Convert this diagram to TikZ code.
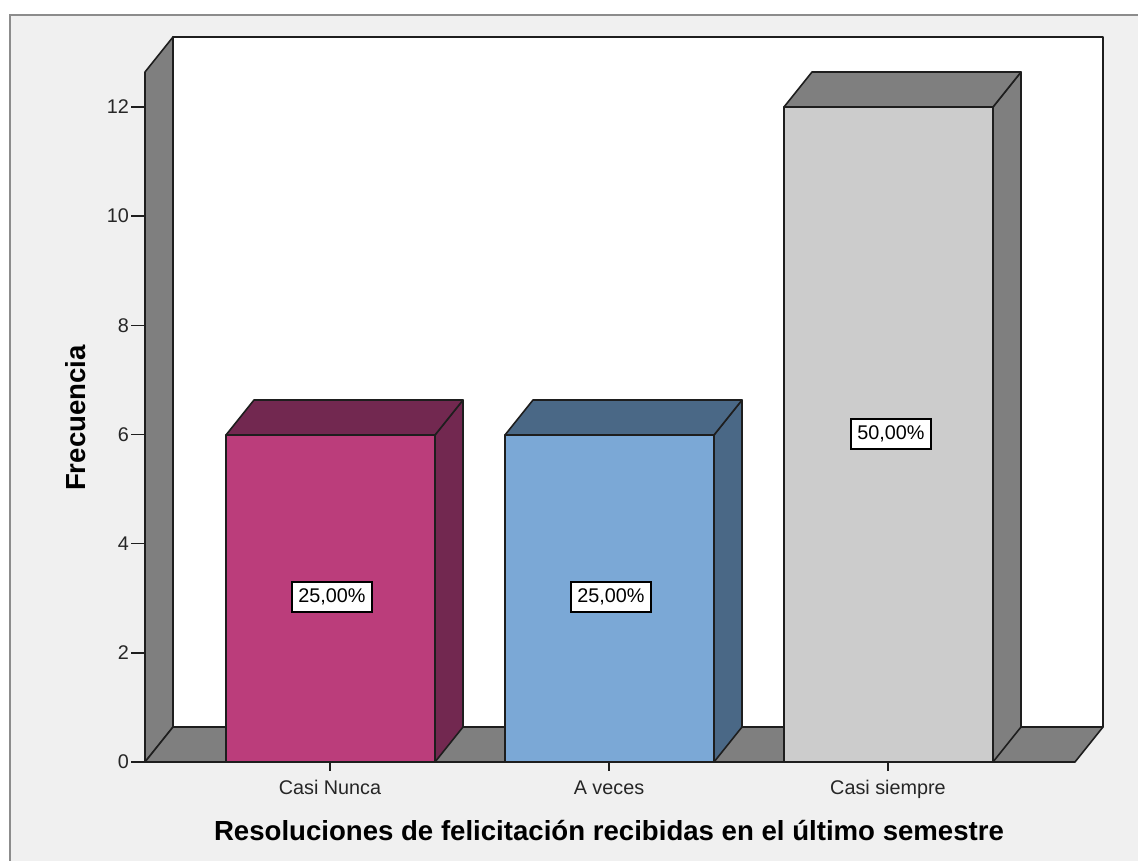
\documentclass[tikz,border=0pt]{standalone}
\usepackage{fontspec}
\setmainfont{Liberation Sans}
\definecolor{panel}{HTML}{F0F0F0}
\definecolor{framegray}{HTML}{8C8C8C}
\definecolor{wallgray}{HTML}{7F7F7F}
\definecolor{edge}{HTML}{1E1E1E}
\definecolor{magfront}{HTML}{BB3D7B}
\definecolor{magdark}{HTML}{722850}
\definecolor{bluefront}{HTML}{7BA8D6}
\definecolor{bluedark}{HTML}{4A6886}
\definecolor{grayfront}{HTML}{CCCCCC}
\definecolor{graydark}{HTML}{7F7F7F}
\tikzset{
  face/.style={draw=edge, line width=1.6pt, line join=round},
  ticktext/.style={font=\fontsize{19.8}{23}\selectfont, text=black!85, inner sep=0pt},
  axistitle/.style={font=\fontsize{27.6}{31}\selectfont\bfseries, inner sep=0pt},
  pctlabel/.style={draw=black, line width=1.2pt, fill=white, font=\fontsize{19.8}{23}\selectfont, inner sep=0pt, minimum width=80pt, minimum height=30pt},
  tickline/.style={draw=edge, line width=1.6pt}
}
\begin{document}
\begin{tikzpicture}[x=1pt,y=-1pt]
\useasboundingbox (0,0) rectangle (1138,861);
\clip (0,0) rectangle (1138,861);
\fill[white] (0,0) rectangle (1138,861);
% outer panel
\draw[fill=panel, draw=framegray, line width=2pt] (10,15) rectangle (1160,880);
% back wall
\draw[face, fill=white] (173,37) rectangle (1103,727);
% left wall
\draw[face, fill=wallgray] (145,72) -- (173,37) -- (173,727) -- (145,762) -- cycle;
% floor
\draw[face, fill=wallgray] (145,762) -- (173,727) -- (1103,727) -- (1075,762) -- cycle;
% bars
\foreach \xa/\xb/\yt/\cf/\cd in {226/435/435/magfront/magdark, 505/714/435/bluefront/bluedark, 784/993/107/grayfront/graydark}{
  \draw[face, fill=\cd] (\xb,\yt) -- (\xb+28,\yt-35) -- (\xb+28,727) -- (\xb,762) -- cycle;
  \draw[face, fill=\cd] (\xa,\yt) -- (\xa+28,\yt-35) -- (\xb+28,\yt-35) -- (\xb,\yt) -- cycle;
  \draw[face, fill=\cf] (\xa,\yt) rectangle (\xb,762);
}
% y ticks
\foreach \v/\n in {0/y0,2/y2,4/y4,6/y6,8/y8,10/y10,12/y12}{
  \coordinate (t\n) at (145,{762-54.583*\v});
  \coordinate (s\n) at (131,{762-54.583*\v});
  \draw[tickline] (s\n) -- (t\n);
  \node[ticktext, anchor=east] (l\n) at (129,{762-54.583*\v}) {\v};
}
% x ticks
\coordinate (xa1) at (330,762); \coordinate (xb1) at (330,771);
\coordinate (xa2) at (609,762); \coordinate (xb2) at (609,771);
\coordinate (xa3) at (888,762); \coordinate (xb3) at (888,771);
\draw[tickline] (xa1) -- (xb1);
\draw[tickline] (xa2) -- (xb2);
\draw[tickline] (xa3) -- (xb3);
\node[ticktext, anchor=base] (c1) at (330,794) {Casi Nunca};
\node[ticktext, anchor=base] (c2) at (609,794) {A veces};
\node[ticktext, anchor=base] (c3) at (888,794) {Casi siempre};
% percentage labels
\node[pctlabel] (p1) at (332,597) {25,00\%};
\node[pctlabel] (p2) at (611,597) {25,00\%};
\node[pctlabel] (p3) at (891,434) {50,00\%};
% axis titles
\node[axistitle] (xt) at (609,831) {Resoluciones de felicitación recibidas en el último semestre};
\node[axistitle, rotate=90] (yt) at (76,418) {Frecuencia};
\end{tikzpicture}
\end{document}
